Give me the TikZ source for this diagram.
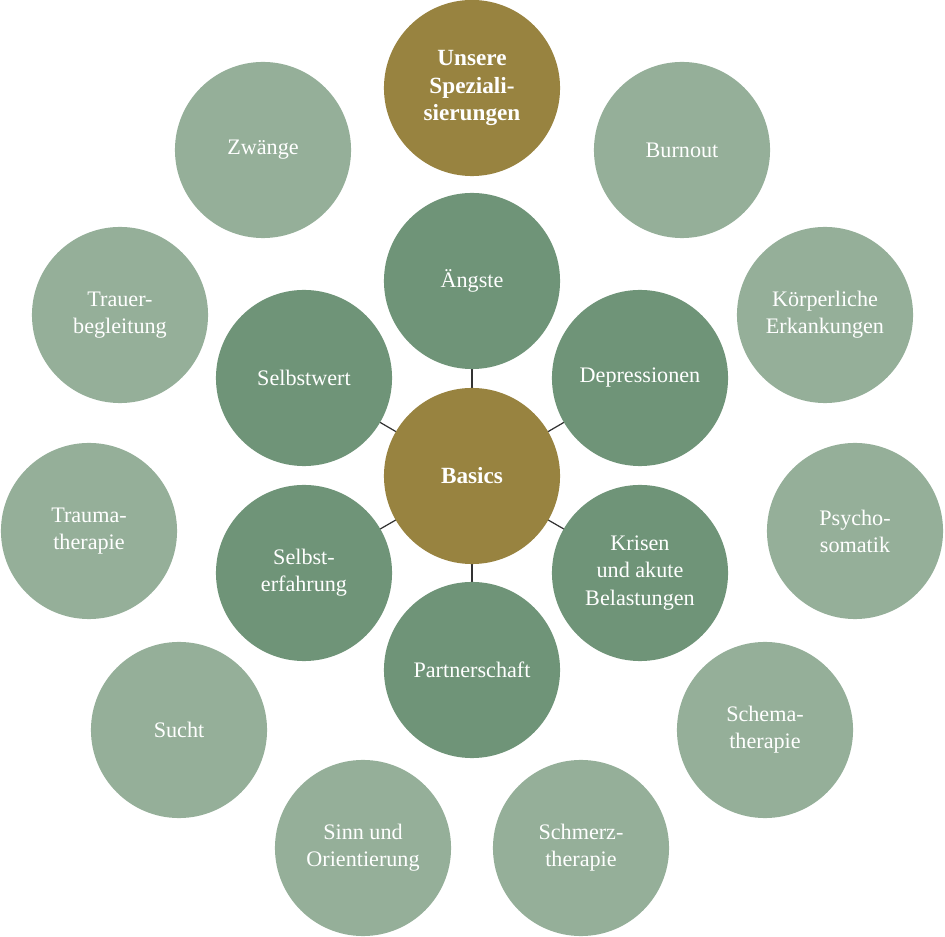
\documentclass[tikz,border=0pt]{standalone}
\usepackage{fontspec}
\setmainfont{Liberation Serif}
\definecolor{gold}{HTML}{988340}
\definecolor{dgreen}{HTML}{6F9478}
\definecolor{lgreen}{HTML}{95AF99}
\begin{document}
\begin{tikzpicture}[x=0.01cm,y=-0.01cm,
  bub/.style={circle,minimum size=1.76cm,inner sep=0pt,align=center,text=white,
    font=\fontsize{6.3}{7.7}\selectfont},
  gold/.style={bub,fill=gold,font=\fontsize{6.6}{7.7}\selectfont\bfseries},
  inner/.style={bub,fill=dgreen},
  outer/.style={bub,fill=lgreen},
  con/.style={draw=black!80,line width=0.35pt}]
\useasboundingbox (0,0) rectangle (945,937);
\coordinate (c) at (472,476);
\foreach \n/\x/\y in {a/472/281,d/640/378,k/640/573,p/472/670,e/304/573,s/304/378}
  \draw[con] (c) -- (\x,\y);
\node[gold] (basics) at (472,476) {Basics};
\node[inner] (a) at (472,281) {Ängste};
\node[inner] (d) at (640,378) {Depressionen};
\node[inner] (k) at (640,573) {Krisen\\und akute\\Belastungen};
\node[inner] (p) at (472,670) {Partnerschaft};
\node[inner] (e) at (304,573) {Selbst-\\erfahrung};
\node[inner] (s) at (304,378) {Selbstwert};
\node[gold] (u) at (472,88) {Unsere\\Speziali-\\sierungen};
\node[outer] (o1) at (682,150) {Burnout};
\node[outer] (o2) at (825,315) {Körperliche\\Erkankungen};
\node[outer] (o3) at (855,531) {Psycho-\\somatik};
\node[outer] (o4) at (765,730) {Schema-\\therapie};
\node[outer] (o5) at (581,848) {Schmerz-\\therapie};
\node[outer] (o6) at (363,848) {Sinn und\\Orientierung};
\node[outer] (o7) at (179,730) {Sucht};
\node[outer] (o8) at (89,531) {Trauma-\\therapie};
\node[outer] (o9) at (120,315) {Trauer-\\begleitung};
\node[outer] (o10) at (263,150) {Zwänge};
\end{tikzpicture}
\end{document}
